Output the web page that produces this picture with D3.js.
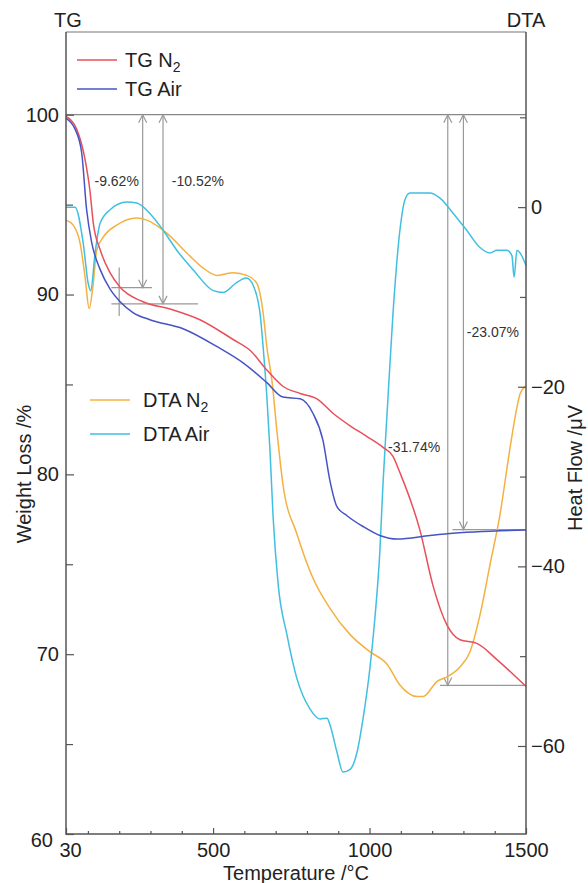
<!DOCTYPE html>
<html>
<head>
<meta charset="utf-8">
<script src="https://cdn.jsdelivr.net/npm/d3@7"></script>
<style>
  body { margin: 0; background: #fff; }
  svg { font-family: "Liberation Sans", Arial, sans-serif; }
  .tick text { fill: #222; }
</style>
</head>
<body>
<div id="chart"></div>
<script>
// axes ranges / ticks
var tempDomain = [30, 1500]
var tgDomain = [60, 104.6]
var dtaDomain = [-69.8, 19.5]

var xMajor = [30, 500, 1000, 1500]
var xMinor = [100, 200, 300, 400, 600, 700, 800, 900, 1100, 1200, 1300, 1400]
var tgMajor = [60, 70, 80, 90, 100]
var tgMinor = [65, 75, 85, 95]
var dtaMajor = [-60, -40, -20, 0]
var dtaMinor = [-50, -30, -10, 10]

// TG curves  [temperature, weight %]
var tgN2 = [
  [30, 99.9], [64, 99.2], [91, 97.5], [107, 95.7], [117, 94.0], [139, 92.5],
  [171, 91.2], [203, 90.4], [276, 89.6], [362, 89.2], [458, 88.6], [564, 87.5],
  [618, 86.9], [672, 85.8], [723, 84.9], [778, 84.5], [832, 84.2], [883, 83.4],
  [938, 82.7], [992, 82.1], [1043, 81.5], [1075, 81.0], [1097, 80.1], [1161, 76.9],
  [1203, 73.8], [1248, 71.6], [1289, 70.8], [1343, 70.6], [1407, 69.7], [1500, 68.2]
]
var tgAir = [
  [30, 99.8], [59, 99.2], [80, 97.9], [96, 94.7], [112, 92.9], [139, 91.4],
  [171, 90.3], [203, 89.6], [244, 89.0], [298, 88.6], [404, 88.1], [513, 87.1],
  [596, 86.2], [672, 85.1], [723, 84.3], [778, 84.2], [819, 83.4], [851, 81.9],
  [874, 79.6], [896, 78.2], [928, 77.7], [979, 77.1], [1033, 76.6], [1088, 76.4],
  [1193, 76.6], [1248, 76.7], [1500, 76.9]
]

// DTA curves  [temperature, heat flow µV]
var dtaN2 = [
  [30, -1.45], [53, -2.0], [75, -4.0], [91, -7.8], [104, -11.3], [117, -8.5],
  [128, -4.8], [149, -3.35], [192, -2.0], [256, -1.2], [288, -1.45], [352, -2.9],
  [416, -5.1], [469, -6.8], [513, -7.6], [564, -7.3], [608, -7.6], [640, -8.5],
  [660, -11.8], [672, -15.6], [688, -19.3], [704, -24.9], [723, -30.8], [768, -36.4],
  [819, -41.3], [874, -44.7], [938, -47.6], [1001, -49.5], [1056, -50.9], [1097, -53.2],
  [1152, -54.5], [1171, -54.5], [1216, -52.8], [1248, -52.3], [1289, -51.2], [1321, -49.5],
  [1353, -45.4], [1385, -39.8], [1417, -34.2], [1449, -26.8], [1471, -22.3], [1481, -20.8],
  [1500, -19.9]
]
var dtaAir = [
  [30, 0], [59, 0], [85, -4.0], [101, -8.5], [109, -9.3], [123, -5.1],
  [139, -1.8], [171, -0.3], [224, 0.56], [256, 0.45], [298, -0.7], [341, -2.6],
  [384, -4.8], [437, -7.0], [501, -9.3], [533, -9.5], [575, -8.4], [607, -7.9],
  [628, -8.7], [645, -10.7], [650, -11.8], [660, -15.6], [672, -21.2], [682, -27.2],
  [692, -34.6], [708, -42.0], [736, -47.6], [768, -52.5], [810, -55.9], [842, -57.0],
  [864, -56.9], [874, -57.7], [896, -60.7], [915, -62.9], [938, -62.6], [960, -60.7],
  [979, -57.0], [1001, -51.4], [1017, -45.8], [1033, -38.3], [1043, -30.8], [1056, -23.0],
  [1075, -11.8], [1097, -2.6], [1113, 0.8], [1129, 1.56], [1193, 1.56], [1225, 1.0],
  [1267, -0.67], [1311, -2.6], [1353, -4.5], [1385, -5.1], [1407, -4.8], [1439, -4.8],
  [1455, -5.4], [1462, -7.8], [1471, -4.8], [1481, -5.1], [1500, -6.5]
]

// weight-loss annotations
var lossText = ['-9.62%', '-10.52%', '-31.74%', '-23.07%']
var lossValue = [9.62, 10.52, 31.74, 23.07]
var lossTemp = [275, 340, 1250, 1300]
var lossRefFrom = [175, 175, 1225, 1265]
var lossRefTo = [305, 452, 1500, 1500]
var lossLabelAt = [[121, 96.3], [368, 96.3], [1059, 81.5], [1311, 87.9]]

var colors = {tgN2: '#e8505b', tgAir: '#4653c4', dtaN2: '#f4b140', dtaAir: '#40bfe0'}

var width = 588, height = 883
var margin = {left: 66, right: 62, top: 32, bottom: 49}

var svg = d3.select('#chart').append('svg')
  .attr('width', width).attr('height', height)

var x = d3.scaleLinear().domain(tempDomain).range([margin.left, width - margin.right])
var yTG = d3.scaleLinear().domain(tgDomain).range([height - margin.bottom, margin.top])
var yDTA = d3.scaleLinear().domain(dtaDomain).range([height - margin.bottom, margin.top])

var axisColor = '#555'
var annColor = '#999'

// frame: top border and 100% line
svg.append('line')
  .attr('x1', x(30)).attr('x2', x(1500)).attr('y1', margin.top).attr('y2', margin.top)
  .attr('stroke', '#777').attr('stroke-width', 1.2)
svg.append('line')
  .attr('x1', x(30)).attr('x2', x(1500)).attr('y1', yTG(100)).attr('y2', yTG(100))
  .attr('stroke', '#888').attr('stroke-width', 1.2)

// annotations (gray arrows)
var ann = svg.append('g').attr('stroke', annColor).attr('stroke-width', 1.2).attr('fill', 'none')
lossValue.forEach(function(v, i){
  var xx = x(lossTemp[i]), y0 = yTG(100), y1 = yTG(100 - v)
  ann.append('line').attr('x1', xx).attr('x2', xx).attr('y1', y0).attr('y2', y1)
  ann.append('path').attr('d', 'M' + (xx - 4) + ',' + (y0 + 8) + 'L' + xx + ',' + y0 + 'L' + (xx + 4) + ',' + (y0 + 8))
  ann.append('path').attr('d', 'M' + (xx - 4) + ',' + (y1 - 8) + 'L' + xx + ',' + y1 + 'L' + (xx + 4) + ',' + (y1 - 8))
  ann.append('line')
    .attr('x1', x(lossRefFrom[i])).attr('x2', x(lossRefTo[i]))
    .attr('y1', y1).attr('y2', y1)
})
// small cross mark at onset
ann.append('line')
  .attr('x1', x(200)).attr('x2', x(200)).attr('y1', yTG(91.5)).attr('y2', yTG(88.8))

svg.append('g').selectAll('text').data(lossText).join('text')
  .attr('x', function(d, i){ return x(lossLabelAt[i][0]) })
  .attr('y', function(d, i){ return yTG(lossLabelAt[i][1]) + 5 })
  .attr('font-size', 14).attr('fill', '#333')
  .text(function(d){ return d })

// curves
var lineTG = d3.line().x(function(d){ return x(d[0]) }).y(function(d){ return yTG(d[1]) }).curve(d3.curveMonotoneX)
var lineDTA = d3.line().x(function(d){ return x(d[0]) }).y(function(d){ return yDTA(d[1]) }).curve(d3.curveMonotoneX)

svg.append('path').attr('d', lineDTA(dtaN2)).attr('fill', 'none').attr('stroke', colors.dtaN2).attr('stroke-width', 1.5)
svg.append('path').attr('d', lineDTA(dtaAir)).attr('fill', 'none').attr('stroke', colors.dtaAir).attr('stroke-width', 1.5)
svg.append('path').attr('d', lineTG(tgN2)).attr('fill', 'none').attr('stroke', colors.tgN2).attr('stroke-width', 1.5)
svg.append('path').attr('d', lineTG(tgAir)).attr('fill', 'none').attr('stroke', colors.tgAir).attr('stroke-width', 1.5)

// axes
function styleAxis(g){
  g.select('.domain').remove()
  g.selectAll('.tick line').attr('stroke', axisColor).attr('stroke-width', 1.2)
  g.selectAll('.tick text').attr('font-size', 20)
}

var left = svg.append('g').attr('transform', 'translate(' + margin.left + ',0)')
left.call(d3.axisLeft(yTG).tickValues(tgMajor).tickSize(-8).tickPadding(7).tickFormat(d3.format('d'))).call(styleAxis)
left.append('g').call(d3.axisLeft(yTG).tickValues(tgMinor).tickSize(-7).tickFormat('')).call(styleAxis)
left.selectAll('.tick text').filter(function(d){ return d == 60 }).attr('dx', -6).attr('dy', '0.6em')

var right = svg.append('g').attr('transform', 'translate(' + (width - margin.right) + ',0)')
right.call(d3.axisRight(yDTA).tickValues(dtaMajor).tickSize(-8).tickPadding(5).tickFormat(d3.format('d'))).call(styleAxis)
right.append('g').call(d3.axisRight(yDTA).tickValues(dtaMinor).tickSize(-6).tickFormat('')).call(styleAxis)

var bottom = svg.append('g').attr('transform', 'translate(0,' + (height - margin.bottom) + ')')
bottom.call(d3.axisBottom(x).tickValues(xMajor).tickSize(-6).tickPadding(9).tickFormat(d3.format('d'))).call(styleAxis)
bottom.append('g').call(d3.axisBottom(x).tickValues(xMinor).tickSize(-3).tickFormat('')).call(styleAxis)
bottom.selectAll('.tick text').filter(function(d){ return d == 30 }).attr('dx', 4)

// axis lines
svg.append('path')
  .attr('d', 'M' + x(30) + ',' + margin.top + 'V' + (height - margin.bottom) + 'H' + x(1500) + 'V' + margin.top)
  .attr('fill', 'none').attr('stroke', axisColor).attr('stroke-width', 1.5)

// axis titles
svg.append('text').attr('x', x(30) + 2).attr('y', 27).attr('text-anchor', 'middle').attr('font-size', 20).attr('fill', '#222').text('TG')
svg.append('text').attr('x', x(1500)).attr('y', 27).attr('text-anchor', 'middle').attr('font-size', 20).attr('fill', '#222').text('DTA')

svg.append('text')
  .attr('transform', 'translate(31,' + 474 + ') rotate(-90)')
  .attr('text-anchor', 'middle').attr('font-size', 20).attr('fill', '#222')
  .text('Weight Loss /%')
svg.append('text')
  .attr('transform', 'translate(582,' + 468 + ') rotate(-90)')
  .attr('text-anchor', 'middle').attr('font-size', 20).attr('fill', '#222')
  .text('Heat Flow /μV')
svg.append('text')
  .attr('x', (x(30) + x(1500)) / 2).attr('y', 880)
  .attr('text-anchor', 'middle').attr('font-size', 20).attr('fill', '#222')
  .text('Temperature /°C')

// legends
var legendTG = [['TG N', '2', colors.tgN2, 60], ['TG Air', '', colors.tgAir, 89]]
var legendDTA = [['DTA N', '2', colors.dtaN2, 400], ['DTA Air', '', colors.dtaAir, 434]]

function drawLegend(items, x0, x1, tx){
  items.forEach(function(d){
    svg.append('line').attr('x1', x0).attr('x2', x1).attr('y1', d[3]).attr('y2', d[3])
      .attr('stroke', d[2]).attr('stroke-width', 1.3)
    var t = svg.append('text').attr('x', tx).attr('y', d[3] + 7).attr('font-size', 20).attr('fill', '#222').text(d[0])
    if (d[1]) t.append('tspan').attr('font-size', 14).attr('dy', 5).text(d[1])
  })
}
drawLegend(legendTG, 77, 117, 125)
drawLegend(legendDTA, 90, 130, 143)
</script>
</body>
</html>
